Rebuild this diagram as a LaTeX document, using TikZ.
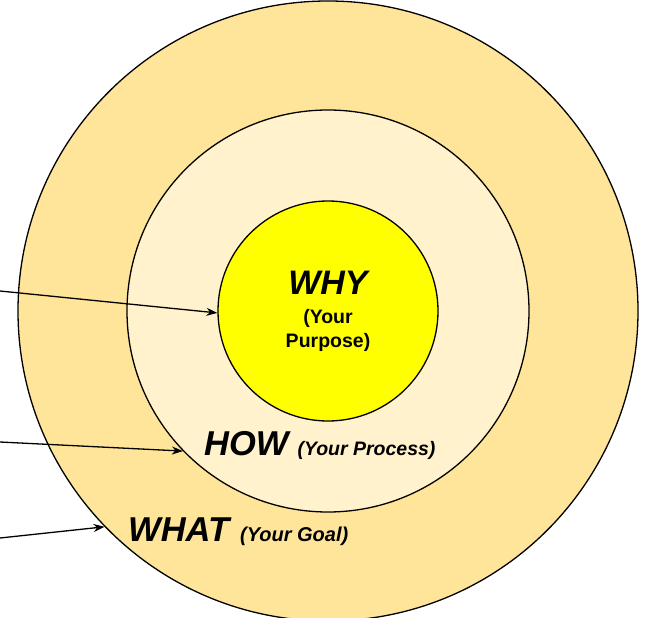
\documentclass[tikz,border=0pt]{standalone}
\usepackage{fontspec}
\setmainfont{Liberation Sans}
\usetikzlibrary{arrows.meta}
\definecolor{outerring}{HTML}{FFE599}
\definecolor{middlering}{HTML}{FFF2CC}
\definecolor{corering}{HTML}{FFFF00}

\begin{document}
\begin{tikzpicture}[x=1pt,y=-1pt,
    ring/.style={circle,draw=black,line width=1.3pt,inner sep=0pt},
    pointer/.style={-{Stealth[length=11pt,width=8pt]},line width=1.3pt},
    bigword/.style={font=\fontsize{34.5}{36}\selectfont\bfseries\itshape}]
  \useasboundingbox (0,0) rectangle (645,618);
  % the three rings
  \node[ring,fill=outerring,minimum size=620pt] (what) at (328,311) {};
  \node[ring,fill=middlering,minimum size=402pt] (how) at (328,311) {};
  \node[ring,fill=corering,minimum size=220pt,align=center,
        font=\fontsize{19.5}{24}\selectfont\bfseries] (why) at (328,311)
        {{\fontsize{34}{36}\selectfont\itshape WHY}\\[5pt](Your\\Purpose)};
  % labels on the rings
  \node[anchor=base west,inner sep=0pt,bigword] (howlabel) at (204,455)
        {HOW\hspace{9pt}{\fontsize{19.5}{20}\selectfont (Your Process)}};
  \node[anchor=base west,inner sep=0pt,bigword] (whatlabel) at (128,541)
        {WHAT\hspace{11pt}{\fontsize{20}{20}\selectfont (Your Goal)}};
  % pointers from the left
  \coordinate (whytail) at (0,291);
  \coordinate (howtail) at (0,442);
  \coordinate (whattail) at (0,538);
  \draw[pointer] (whytail) -- (why.181);
  \draw[pointer] (howtail) -- (how.224);
  \draw[pointer] (whattail) -- (what.224);
\end{tikzpicture}
\end{document}
